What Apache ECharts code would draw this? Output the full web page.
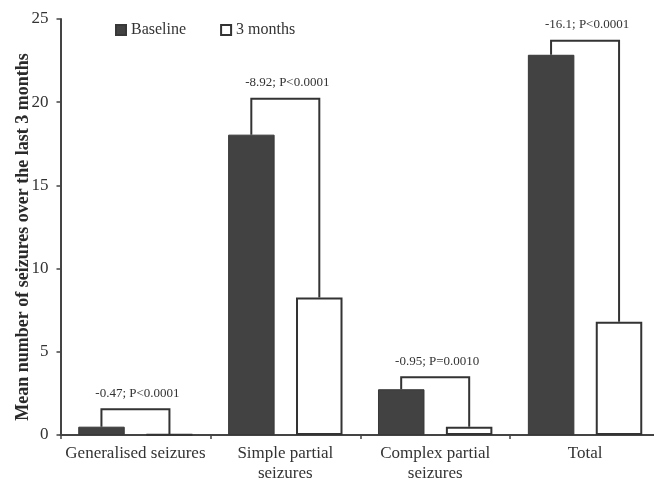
<!DOCTYPE html>
<html>
<head>
<meta charset="utf-8">
<script src="https://cdn.jsdelivr.net/npm/echarts@6/dist/echarts.min.js"></script>
<style>
  html, body { margin: 0; padding: 0; background: #fff; overflow: hidden; }
  #chart { width: 654px; height: 479px; }
</style>
</head>
<body>
<div id="chart"></div>
<script>
const categories = ['Generalised seizures', 'Simple partial\nseizures', 'Complex partial\nseizures', 'Total'];
const seriesNames = ['Baseline', '3 months'];
const baseline = [0.5, 18.05, 2.75, 22.85];
const threeMonths = [0.03, 8.27, 0.5, 6.8];
const bracketTop = [1.55, 20.2, 3.47, 23.7];
const annotations = ['-0.47; P<0.0001', '-8.92; P<0.0001', '-0.95; P=0.0010', '-16.1; P<0.0001'];
const yTicks = { min: 0, max: 25, interval: 5 };
const yTitle = 'Mean number of seizures over the last 3 months';

const FONT = '"Liberation Serif", "Times New Roman", serif';
const INK = '#333333';
const DARK = '#424242';
const BAR_W = 46.5;
const LEG_OFF = 34;

const chart = echarts.init(document.getElementById('chart'), null, { renderer: 'canvas' });

const option = {
  animation: false,
  backgroundColor: '#ffffff',
  grid: { left: 60.5, right: -6, top: 19, bottom: 44, containLabel: false, outerBoundsMode: 'none' },
  legend: {
    data: seriesNames,
    left: 115,
    top: 22,
    padding: 0,
    itemGap: 34,
    itemWidth: 10,
    itemHeight: 10,
    icon: 'rect',
    textStyle: { fontFamily: FONT, fontSize: 16, color: INK }
  },
  xAxis: {
    type: 'category',
    data: categories,
    axisLine: { lineStyle: { color: '#444', width: 2 } },
    axisTick: { show: true, length: 4, alignWithLabel: false, lineStyle: { color: '#444', width: 1.5 } },
    axisLabel: { fontFamily: FONT, fontSize: 17, color: INK, margin: 9, lineHeight: 19.5, interval: 0 },
    splitLine: { show: false }
  },
  yAxis: {
    type: 'value',
    min: yTicks.min,
    max: yTicks.max,
    interval: yTicks.interval,
    axisLine: { show: true, lineStyle: { color: '#444', width: 2 } },
    axisTick: { show: true, length: 4, lineStyle: { color: '#444', width: 1.5 } },
    axisLabel: { fontFamily: FONT, fontSize: 17, color: INK, margin: 12 },
    splitLine: { show: false }
  },
  graphic: [{
    type: 'text',
    x: 23,
    y: 237,
    rotation: Math.PI / 2,
    style: {
      text: yTitle,
      font: 'bold 18px ' + FONT,
      fill: '#2a2a2a',
      align: 'center',
      verticalAlign: 'middle'
    }
  }],
  series: [
    {
      name: seriesNames[0],
      type: 'bar',
      data: baseline,
      barWidth: BAR_W,
      barGap: '46%',
      itemStyle: { color: DARK, borderColor: '#383838', borderWidth: 1 }
    },
    {
      name: seriesNames[1],
      type: 'bar',
      data: threeMonths,
      barWidth: BAR_W,
      barGap: '46%',
      itemStyle: { color: '#ffffff', borderColor: INK, borderWidth: 2 }
    },
    {
      type: 'custom',
      name: 'brackets',
      silent: true,
      z: 5,
      encode: { x: 0, y: 1 },
      data: categories.map((c, i) => [i, bracketTop[i], baseline[i], threeMonths[i]]),
      renderItem: function (params, api) {
        const i = params.dataIndex;
        const top = api.coord([api.value(0), api.value(1)]);
        const cx = top[0];
        const yTop = top[1];
        const yL = api.coord([api.value(0), api.value(2)])[1];
        const yR = api.coord([api.value(0), api.value(3)])[1];
        return {
          type: 'group',
          children: [
            {
              type: 'polyline',
              shape: { points: [[cx - LEG_OFF, yL], [cx - LEG_OFF, yTop], [cx + LEG_OFF, yTop], [cx + LEG_OFF, yR]] },
              style: { stroke: INK, lineWidth: 2, fill: null }
            },
            {
              type: 'text',
              style: {
                text: annotations[i],
                x: cx + 2,
                y: yTop - 16,
                align: 'center',
                verticalAlign: 'middle',
                font: '13px ' + FONT,
                fill: INK
              }
            }
          ]
        };
      }
    }
  ]
};

chart.setOption(option);
</script>
</body>
</html>
